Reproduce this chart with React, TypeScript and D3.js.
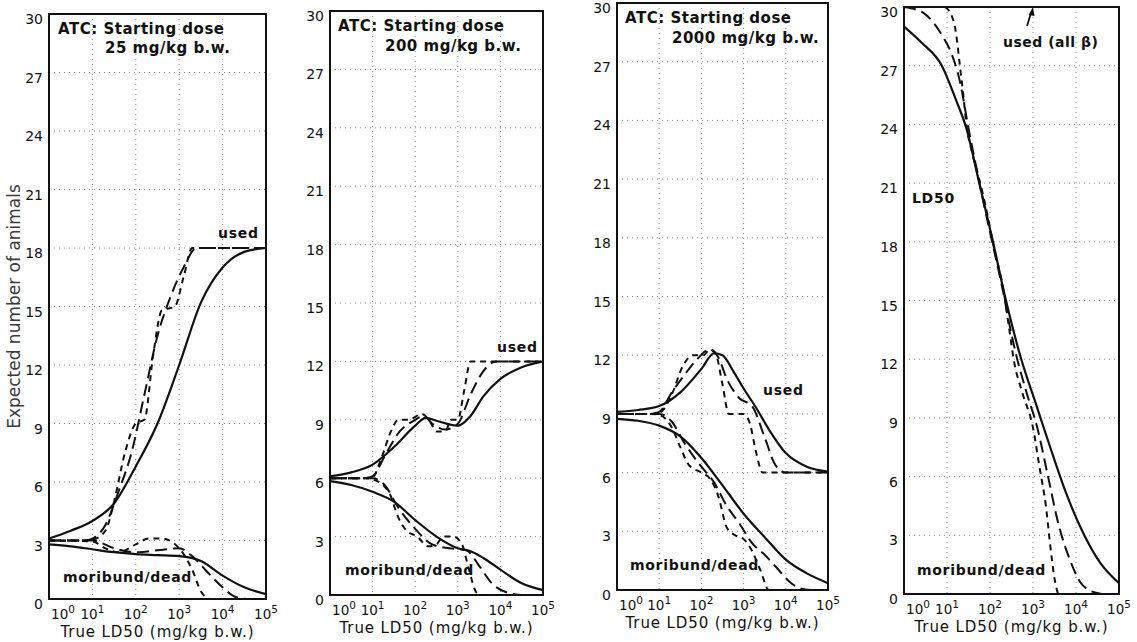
import { useEffect, useRef } from 'react';
import * as d3 from 'd3';

type Pt = [number, number]; // [log10 LD50, expected number]

// ── Tick values ────────────────────────────────────────────
const yTicks = [0, 3, 6, 9, 12, 15, 18, 21, 24, 27, 30];
const xDecades = [0, 1, 2, 3, 4, 5];

// ── Panel 1: starting dose 25 mg/kg ─────────────────────────
const p1UsedSolid: Pt[] = [[0, 3.1], [0.5, 3.5], [1, 4.0], [1.5, 4.9], [2, 6.8], [2.5, 9.0], [3, 12.0], [3.5, 15.2], [4, 17.0], [4.5, 17.8], [5, 18.0]];
const p1UsedShort: Pt[] = [[0, 3.0], [0.5, 3.0], [1, 3.05], [1.3, 3.5], [1.5, 5.0], [1.75, 7.5], [2, 9.0], [2.2, 9.2], [2.4, 12.5], [2.6, 14.8], [2.9, 15.0], [3.1, 16.5], [3.3, 18.0], [5, 18.0]];
const p1UsedLong: Pt[] = [[0, 3.0], [0.8, 3.0], [1, 3.1], [1.3, 3.8], [1.6, 5.5], [1.9, 7.5], [2.2, 10.5], [2.5, 13.5], [2.8, 15.5], [3.1, 17.0], [3.4, 18.0], [5, 18.0]];
const p1DeadSolid: Pt[] = [[0, 2.8], [0.5, 2.7], [1, 2.55], [1.5, 2.4], [2, 2.3], [2.5, 2.25], [3, 2.2], [3.5, 1.95], [4, 1.2], [4.5, 0.6], [5, 0.25]];
const p1DeadShort: Pt[] = [[0, 3.0], [1, 2.95], [1.3, 2.6], [1.6, 2.4], [2, 2.8], [2.3, 3.1], [2.6, 3.1], [3, 2.6], [3.3, 1.5], [3.5, 0.4], [3.7, 0], [5, 0]];
const p1DeadLong: Pt[] = [[0, 3.0], [1, 3.0], [1.5, 2.6], [2, 2.4], [2.5, 2.5], [3, 2.6], [3.3, 2.2], [3.6, 1.5], [4, 0.6], [4.3, 0.1], [4.6, 0], [5, 0]];

// ── Panel 2: starting dose 200 mg/kg ────────────────────────
const p2UsedSolid: Pt[] = [[0, 6.1], [0.5, 6.3], [1, 6.7], [1.5, 7.6], [2, 8.7], [2.25, 9.1], [2.5, 8.95], [3, 8.7], [3.3, 9.2], [3.6, 10.2], [4, 11.1], [4.5, 11.7], [5, 12.0]];
const p2UsedShort: Pt[] = [[0, 6.0], [0.7, 6.0], [1, 6.05], [1.2, 7.0], [1.45, 8.5], [1.6, 9.0], [1.85, 9.0], [2.15, 9.3], [2.35, 8.9], [2.5, 8.4], [2.7, 8.4], [2.85, 9.0], [3, 9.0], [3.15, 10.5], [3.3, 12.0], [5, 12.0]];
const p2UsedLong: Pt[] = [[0, 6.0], [0.8, 6.0], [1, 6.1], [1.3, 7.2], [1.6, 8.3], [2, 9.0], [2.2, 9.2], [2.4, 8.8], [2.7, 8.5], [3, 8.8], [3.3, 10.3], [3.6, 11.5], [3.9, 12.0], [5, 12.0]];
const p2DeadSolid: Pt[] = [[0, 5.85], [0.5, 5.65], [1, 5.3], [1.5, 4.8], [2, 3.85], [2.5, 3.0], [3, 2.4], [3.3, 2.25], [3.6, 1.9], [4, 1.3], [4.5, 0.6], [5, 0.25]];
const p2DeadShort: Pt[] = [[0, 6.0], [0.8, 6.0], [1.05, 5.9], [1.4, 5.2], [1.6, 4.0], [1.8, 3.3], [2.05, 3.0], [2.3, 2.5], [2.5, 2.6], [2.65, 3.0], [2.9, 3.0], [3.1, 2.6], [3.25, 1.4], [3.45, 0.1], [3.6, 0], [5, 0]];
const p2DeadLong: Pt[] = [[0, 6.0], [1, 6.0], [1.3, 5.6], [1.6, 4.5], [2, 3.4], [2.4, 2.6], [2.8, 2.4], [3.2, 2.3], [3.5, 1.5], [3.8, 0.6], [4.2, 0.1], [4.5, 0], [5, 0]];

// ── Panel 3: starting dose 2000 mg/kg ───────────────────────
const p3UsedSolid: Pt[] = [[0, 9.1], [0.5, 9.2], [1, 9.4], [1.5, 10.1], [2, 11.3], [2.3, 12.1], [2.5, 12.0], [2.75, 11.2], [3, 10.3], [3.3, 9.3], [3.6, 8.2], [4, 7.0], [4.5, 6.3], [5, 6.05]];
const p3UsedShort: Pt[] = [[0, 9.0], [0.8, 9.0], [1, 9.05], [1.3, 10.0], [1.55, 11.4], [1.8, 12.0], [2.05, 12.0], [2.2, 12.3], [2.35, 12.0], [2.5, 10.5], [2.65, 9.0], [3, 9.0], [3.15, 8.5], [3.3, 7.0], [3.45, 6.0], [5, 6.0]];
const p3UsedLong: Pt[] = [[0, 9.0], [0.8, 9.0], [1, 9.1], [1.3, 10.1], [1.6, 11.0], [1.9, 11.8], [2.2, 12.3], [2.4, 11.9], [2.6, 10.8], [2.9, 9.8], [3.2, 9.4], [3.5, 7.8], [3.75, 6.4], [4, 6.0], [5, 6.0]];
const p3DeadSolid: Pt[] = [[0, 8.75], [0.5, 8.65], [1, 8.4], [1.5, 7.85], [2, 6.75], [2.5, 5.35], [3, 3.9], [3.5, 2.7], [4, 1.55], [4.5, 0.85], [5, 0.35]];
const p3DeadShort: Pt[] = [[0, 9.0], [0.8, 9.0], [1.05, 8.9], [1.3, 8.3], [1.5, 7.3], [1.7, 6.4], [2, 6.0], [2.2, 5.7], [2.4, 4.8], [2.6, 3.2], [2.8, 2.8], [3, 2.6], [3.2, 2.0], [3.4, 1.0], [3.6, 0], [5, 0]];
const p3DeadLong: Pt[] = [[0, 9.0], [1, 9.0], [1.3, 8.6], [1.6, 7.5], [2, 6.3], [2.3, 5.5], [2.6, 4.3], [2.9, 3.4], [3.2, 2.4], [3.5, 1.8], [3.8, 1.1], [4.1, 0.4], [4.4, 0.05], [4.6, 0], [5, 0]];

// ── Panel 4: all β, LD50 ────────────────────────────────────
const p4Solid: Pt[] = [[0, 29.0], [0.4, 28.2], [0.88, 27.0], [1.2, 25.3], [1.45, 23.8], [1.75, 21.0], [2.05, 18.2], [2.35, 15.2], [2.7, 12.2], [3.1, 9.5], [3.4, 7.5], [3.78, 5.1], [4.17, 3.1], [4.56, 1.6], [5, 0.55]];
const p4Long: Pt[] = [[0, 30], [0.45, 29.7], [0.72, 29.1], [0.9, 28.5], [1.07, 27.8], [1.3, 26.2], [1.5, 23.8], [1.7, 21.6], [1.85, 20.0], [2.05, 18.0], [2.3, 15.5], [2.45, 13.8], [2.6, 12.3], [2.85, 10.3], [3.1, 8.5], [3.35, 6.0], [3.6, 3.5], [3.85, 1.8], [4.1, 0.6], [4.3, 0.2], [4.6, 0]];
const p4Short: Pt[] = [[0.95, 30], [1.1, 29.6], [1.2, 28.8], [1.3, 27.0], [1.38, 25.5], [1.45, 24.0], [1.58, 22.6], [1.75, 21.2], [1.9, 19.8], [2.1, 17.6], [2.3, 15.7], [2.45, 13.5], [2.55, 12.0], [2.75, 10.3], [3, 8.5], [3.15, 6.5], [3.3, 4.5], [3.4, 2.5], [3.5, 0.8], [3.58, 0]];

const DASH: Record<string, string | null> = { solid: null, long: '12,6', short: '6,5' };

interface Panel {
  left: number; right: number; top: number; bottom: number;
  series: { pts: Pt[]; style: string }[];
  labels: { text: string; dx: number; dy: number; size: number; spacing: number }[];
  arrow?: boolean;
}

const panels: Panel[] = [
  {
    left: 49, right: 266, top: 14, bottom: 599,
    series: [
      { pts: p1UsedSolid, style: 'solid' }, { pts: p1UsedShort, style: 'short' }, { pts: p1UsedLong, style: 'long' },
      { pts: p1DeadSolid, style: 'solid' }, { pts: p1DeadShort, style: 'short' }, { pts: p1DeadLong, style: 'long' },
    ],
    labels: [
      { text: 'ATC: Starting dose', dx: 9, dy: 20, size: 15, spacing: 0.5 },
      { text: '25 mg/kg b.w.', dx: 56, dy: 39, size: 15, spacing: 0.5 },
      { text: 'used', dx: 169, dy: 224, size: 14, spacing: 0.7 },
      { text: 'moribund/dead', dx: 14, dy: 568, size: 14, spacing: 0.7 },
    ],
  },
  {
    left: 330, right: 543, top: 11, bottom: 595,
    series: [
      { pts: p2UsedSolid, style: 'solid' }, { pts: p2UsedShort, style: 'short' }, { pts: p2UsedLong, style: 'long' },
      { pts: p2DeadSolid, style: 'solid' }, { pts: p2DeadShort, style: 'short' }, { pts: p2DeadLong, style: 'long' },
    ],
    labels: [
      { text: 'ATC: Starting dose', dx: 8, dy: 20, size: 15, spacing: 0.5 },
      { text: '200 mg/kg b.w.', dx: 55, dy: 40, size: 15, spacing: 0.5 },
      { text: 'used', dx: 167, dy: 341, size: 14, spacing: 0.7 },
      { text: 'moribund/dead', dx: 15, dy: 564, size: 14, spacing: 0.7 },
    ],
  },
  {
    left: 617, right: 828, top: 3, bottom: 590,
    series: [
      { pts: p3UsedSolid, style: 'solid' }, { pts: p3UsedShort, style: 'short' }, { pts: p3UsedLong, style: 'long' },
      { pts: p3DeadSolid, style: 'solid' }, { pts: p3DeadShort, style: 'short' }, { pts: p3DeadLong, style: 'long' },
    ],
    labels: [
      { text: 'ATC: Starting dose', dx: 8, dy: 20, size: 15, spacing: 0.5 },
      { text: '2000 mg/kg b.w.', dx: 55, dy: 40, size: 15, spacing: 0.5 },
      { text: 'used', dx: 146, dy: 392, size: 14, spacing: 0.7 },
      { text: 'moribund/dead', dx: 13, dy: 567, size: 14, spacing: 0.7 },
    ],
  },
  {
    left: 904, right: 1119, top: 7, bottom: 594,
    series: [
      { pts: p4Solid, style: 'solid' }, { pts: p4Long, style: 'long' }, { pts: p4Short, style: 'short' },
    ],
    labels: [
      { text: 'used (all β)', dx: 99, dy: 40, size: 14, spacing: 0.5 },
      { text: 'LD50', dx: 8, dy: 196, size: 14, spacing: 0.7 },
      { text: 'moribund/dead', dx: 13, dy: 568, size: 14, spacing: 0.7 },
    ],
    arrow: true,
  },
];

export default function App() {
  const svgRef = useRef<SVGSVGElement>(null);

  useEffect(() => {
    if (!svgRef.current) return;
    const svg = d3.select(svgRef.current);
    svg.selectAll('*').remove();
    const font = '"DejaVu Sans", sans-serif';

    panels.forEach((p, i) => {
      const x = d3.scaleLog().domain([1, 1e5]).range([p.left, p.right]);
      const y = d3.scaleLinear().domain([0, 30]).range([p.bottom, p.top]);
      const g = svg.append('g');

      // ── Grid ──────────────────────────────────────────────
      g.selectAll('.hgrid').data(yTicks.slice(1, -1)).enter().append('line')
        .attr('x1', p.left).attr('x2', p.right)
        .attr('y1', d => y(d)).attr('y2', d => y(d))
        .attr('stroke', '#8a8a8a').attr('stroke-width', 1).attr('stroke-dasharray', '1,4');
      g.selectAll('.vgrid').data(xDecades.slice(1, -1)).enter().append('line')
        .attr('x1', d => x(10 ** d)).attr('x2', d => x(10 ** d))
        .attr('y1', p.top).attr('y2', p.bottom)
        .attr('stroke', '#8a8a8a').attr('stroke-width', 1).attr('stroke-dasharray', '1,4');

      // ── Curves ────────────────────────────────────────────
      const line = d3.line<Pt>()
        .x(d => x(10 ** d[0]))
        .y(d => y(d[1]))
        .curve(d3.curveMonotoneX);
      p.series.forEach(s => {
        g.append('path')
          .attr('d', line(s.pts))
          .attr('fill', 'none')
          .attr('stroke', '#111')
          .attr('stroke-width', s.style === 'solid' ? 2.2 : 2)
          .attr('stroke-dasharray', DASH[s.style])
          .attr('stroke-linejoin', 'round');
      });

      // ── Frame ─────────────────────────────────────────────
      g.append('rect')
        .attr('x', p.left).attr('y', p.top)
        .attr('width', p.right - p.left).attr('height', p.bottom - p.top)
        .attr('fill', 'none').attr('stroke', '#111').attr('stroke-width', 2);

      // ── Y ticks ───────────────────────────────────────────
      g.selectAll('.ytick').data(yTicks).enter().append('text')
        .attr('x', p.left - 6).attr('y', d => y(d) + 10)
        .attr('text-anchor', 'end')
        .attr('font-family', font).attr('font-size', 14).attr('fill', '#111')
        .text(d => d);

      // ── X ticks (10^n) ────────────────────────────────────
      xDecades.forEach(d => {
        const cx = x(10 ** d) + (d === 0 ? 14 : 0);
        const t = g.append('text')
          .attr('x', cx).attr('y', p.bottom + 20)
          .attr('text-anchor', 'middle')
          .attr('font-family', font).attr('font-size', 13.5).attr('fill', '#111');
        t.append('tspan').text('10');
        t.append('tspan').attr('dy', -6).attr('font-size', 10.5).text(d);
      });

      g.append('text')
        .attr('x', (p.left + p.right) / 2).attr('y', p.bottom + 38)
        .attr('text-anchor', 'middle')
        .attr('font-family', font).attr('font-size', 15).attr('letter-spacing', 0.9).attr('fill', '#111')
        .text('True LD50 (mg/kg b.w.)');

      // ── Annotations ───────────────────────────────────────
      p.labels.forEach(l => {
        g.append('text')
          .attr('x', p.left + l.dx).attr('y', p.top + l.dy)
          .attr('font-family', font).attr('font-size', l.size).attr('font-weight', 'bold')
          .attr('letter-spacing', l.spacing)
          .attr('fill', '#111')
          .text(l.text);
      });

      if (p.arrow) {
        const ax = p.left + 123, ay = p.top + 19;
        g.append('line')
          .attr('x1', ax).attr('y1', ay).attr('x2', ax + 4).attr('y2', ay - 13)
          .attr('stroke', '#111').attr('stroke-width', 1.8);
        g.append('path')
          .attr('d', `M${ax + 6},${ay - 19} L${ax + 1.5},${ay - 11} L${ax + 7.5},${ay - 10} Z`)
          .attr('fill', '#111');
      }

      if (i === 0) {
        svg.append('text')
          .attr('transform', `translate(20,${(p.top + p.bottom) / 2}) rotate(-90)`)
          .attr('text-anchor', 'middle')
          .attr('font-family', font).attr('font-size', 17).attr('fill', '#3a3a3a')
          .text('Expected number of animals');
      }
    });
  }, []);

  return (
    <div style={{ position: 'absolute', left: 0, top: 0, width: 1137, height: 642, background: '#fff' }}>
      <svg ref={svgRef} width={1137} height={642} style={{ display: 'block' }} />
    </div>
  );
}
